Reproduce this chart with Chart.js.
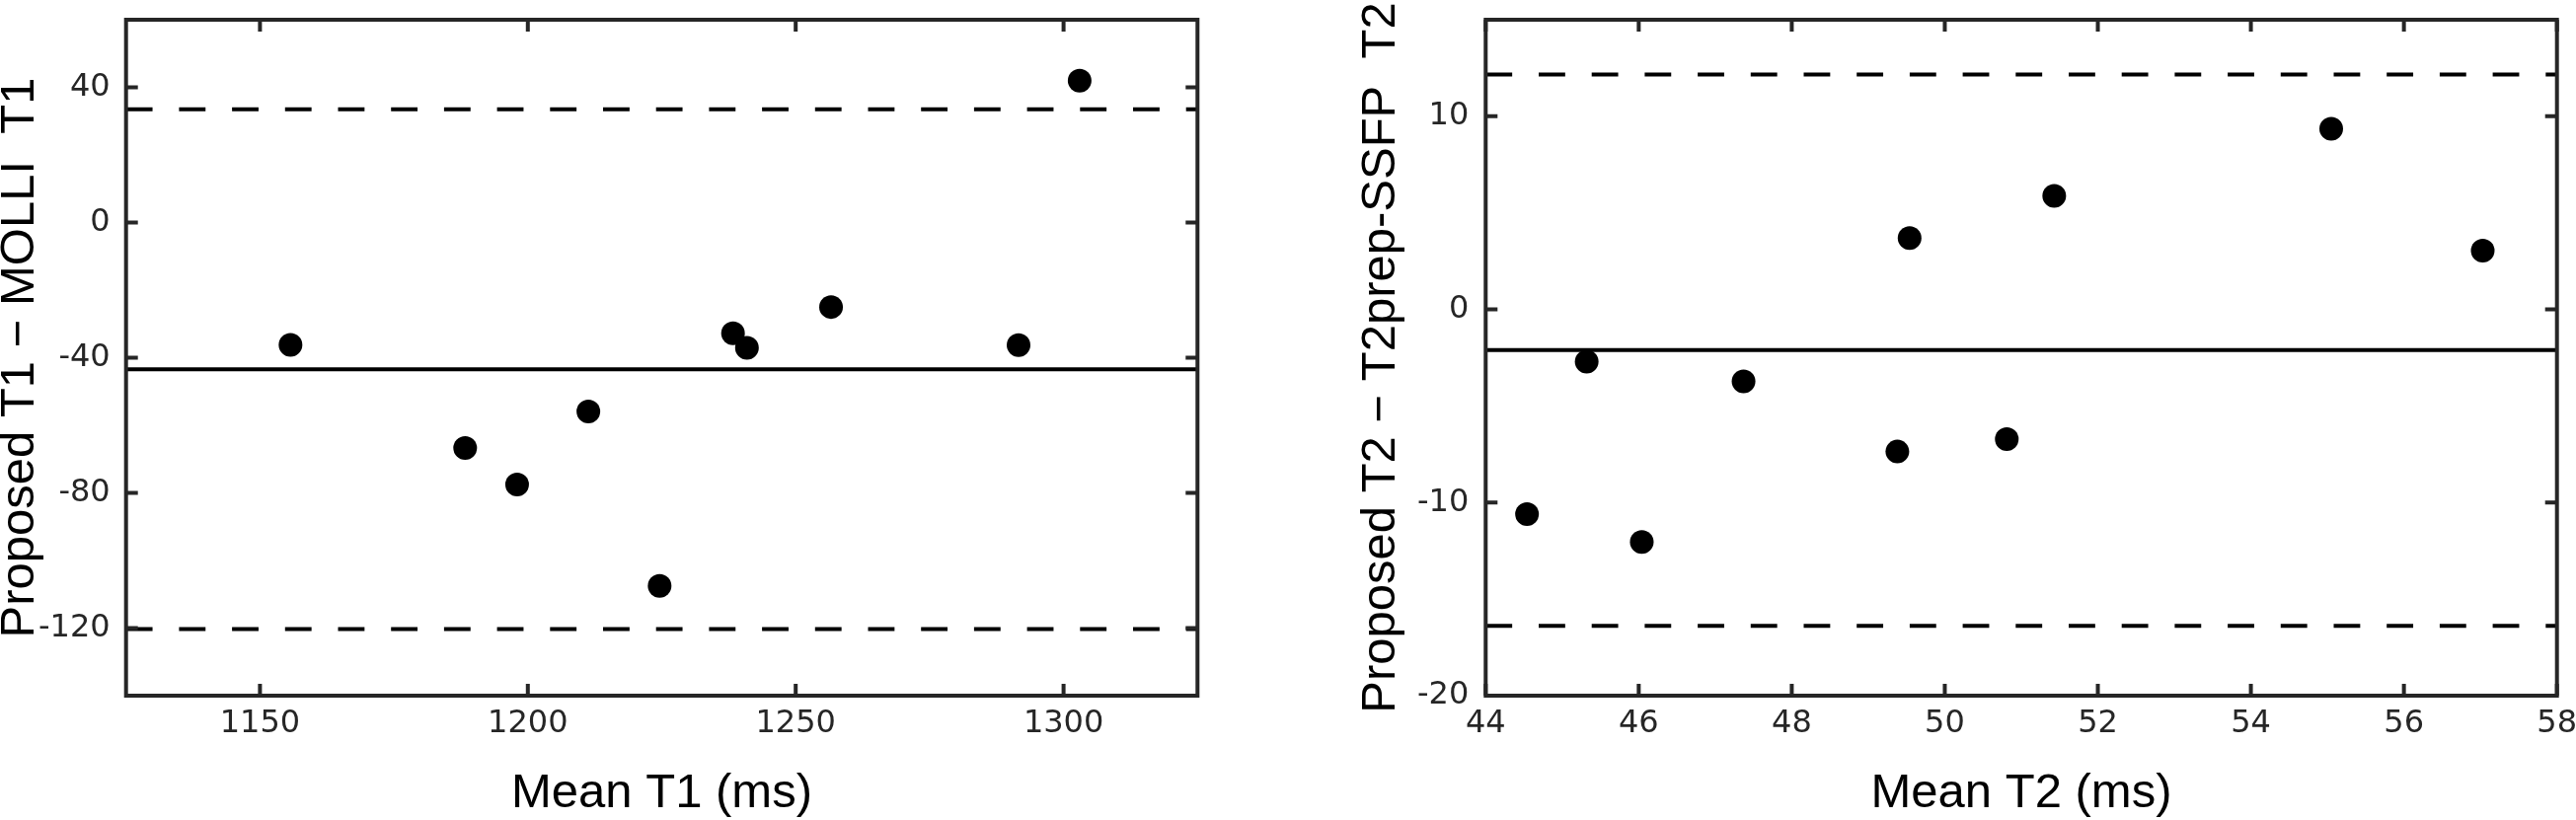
<!DOCTYPE html>
<html><head><meta charset="utf-8">
<script src="https://cdn.jsdelivr.net/npm/chart.js@4"></script>
<style>
html,body{margin:0;padding:0;background:#fff;width:2610px;height:831px;overflow:hidden}
#c1{position:absolute;left:0;top:0}
#c2{position:absolute;left:1300px;top:0}
</style></head><body>
<canvas id="c1" width="1300" height="831"></canvas>
<canvas id="c2" width="1310" height="831"></canvas>
<script>
// ---- Left panel: T1 Bland-Altman ----
const t1Mean = [1155.7, 1188.3, 1198.0, 1211.3, 1224.6, 1238.3, 1240.9, 1256.6, 1291.6, 1303.0];
const t1Diff = [-36.2, -66.7, -77.5, -55.9, -107.5, -32.8, -37.1, -25.0, -36.3, 42.0];
const t1Bias = -43.4;
const t1UpperLoA = 33.5;
const t1LowerLoA = -120.3;
const t1XRange = [1125, 1325];
const t1YRange = [-140, 60];
const t1XTicks = [1150, 1200, 1250, 1300];
const t1YTicks = [-120, -80, -40, 0, 40];
const t1XTitle = 'Mean T1 (ms)';
const t1YTitle = 'Proposed T1 \u2212 MOLLI  T1';

// ---- Right panel: T2 Bland-Altman ----
const t2Mean = [44.54, 45.32, 46.04, 47.37, 49.38, 49.54, 50.81, 51.43, 55.05, 57.03];
const t2Diff = [-10.6, -2.7, -12.04, -3.73, -7.36, 3.69, -6.71, 5.88, 9.35, 3.04];
const t2Bias = -2.11;
const t2UpperLoA = 12.16;
const t2LowerLoA = -16.38;
const t2XRange = [44, 58];
const t2YRange = [-20, 15];
const t2XTicks = [44, 46, 48, 50, 52, 54, 56, 58];
const t2YTicks = [-20, -10, 0, 10];
const t2XTitle = 'Mean T2 (ms)';
const t2YTitle = 'Proposed T2 \u2212 T2prep-SSFP  T2';

const AXIS_COLOR = '#262626';

const boxPlugin = {
  id: 'matlabBox',
  afterDraw(chart) {
    const {ctx, chartArea: a, scales: {x, y}} = chart;
    const L = 12;
    ctx.save();
    ctx.strokeStyle = AXIS_COLOR;
    ctx.lineWidth = 4;
    ctx.lineCap = 'butt';
    ctx.beginPath();
    for (const t of x.ticks) {
      const px = x.getPixelForValue(t.value);
      ctx.moveTo(px, a.bottom); ctx.lineTo(px, a.bottom - L);
      ctx.moveTo(px, a.top); ctx.lineTo(px, a.top + L);
    }
    for (const t of y.ticks) {
      const py = y.getPixelForValue(t.value);
      ctx.moveTo(a.left, py); ctx.lineTo(a.left + L, py);
      ctx.moveTo(a.right, py); ctx.lineTo(a.right - L, py);
    }
    ctx.stroke();
    ctx.lineJoin = 'miter';
    ctx.strokeRect(a.left, a.top, a.right - a.left, a.bottom - a.top);
    ctx.restore();
  }
};

function hLine(xr, yv, dashed) {
  return {
    type: 'line',
    data: [{x: xr[0], y: yv}, {x: xr[1], y: yv}],
    showLine: true,
    borderColor: '#000',
    borderWidth: 4,
    borderDash: dashed ? [26.85, 26.85] : [],
    borderCapStyle: 'butt',
    pointRadius: 0,
    pointHoverRadius: 0,
    fill: false,
    order: 2
  };
}

function makeChart(id, cfg) {
  const points = cfg.xs.map((v, i) => ({x: v, y: cfg.ys[i]}));
  return new Chart(document.getElementById(id), {
    type: 'scatter',
    data: {
      datasets: [
        {type: 'scatter', data: points, backgroundColor: '#000', borderWidth: 0,
         pointRadius: 12, pointHoverRadius: 12, order: 0},
        hLine(cfg.xr, cfg.bias, false),
        hLine(cfg.xr, cfg.upper, true),
        hLine(cfg.xr, cfg.lower, true)
      ]
    },
    options: {
      responsive: false,
      animation: false,
      devicePixelRatio: 1,
      layout: {padding: {left: 0, right: cfg.padRight, top: 20, bottom: 0}},
      plugins: {legend: {display: false}, tooltip: {enabled: false}},
      scales: {
        x: {
          type: 'linear', position: 'bottom',
          min: cfg.xr[0], max: cfg.xr[1],
          afterBuildTicks: s => { s.ticks = cfg.xTicks.map(v => ({value: v})); },
          afterFit: s => { s.height = 126; s.paddingLeft = 0; s.paddingRight = 0; },
          grid: {display: false, drawTicks: false},
          border: {display: false},
          ticks: {autoSkip: false, maxRotation: 0, minRotation: 0, padding: 9.8,
                  color: AXIS_COLOR, font: {family: 'DejaVu Sans', size: 32},
                  callback: v => String(v)},
          title: {display: true, text: cfg.xTitle, color: '#000',
                  font: {family: 'Liberation Sans', size: 49, lineHeight: 1},
                  padding: {top: 0, bottom: 1.75}}
        },
        y: {
          type: 'linear', position: 'left',
          min: cfg.yr[0], max: cfg.yr[1],
          afterBuildTicks: s => { s.ticks = cfg.yTicks.map(v => ({value: v})); },
          afterFit: s => { s.width = cfg.yAxisWidth; s.paddingTop = 0; s.paddingBottom = 0; },
          grid: {display: false, drawTicks: false},
          border: {display: false},
          ticks: {autoSkip: false, padding: cfg.yTickPad,
                  color: AXIS_COLOR, font: {family: 'DejaVu Sans', size: 32},
                  callback: v => String(v)},
          title: {display: true, text: cfg.yTitle, color: '#000',
                  font: {family: 'Liberation Sans', size: 49, lineHeight: 1},
                  padding: {top: cfg.yTitlePad, bottom: 0}}
        }
      }
    },
    plugins: [boxPlugin]
  });
}

makeChart('c1', {
  xs: t1Mean, ys: t1Diff, bias: t1Bias, upper: t1UpperLoA, lower: t1LowerLoA,
  xr: t1XRange, yr: t1YRange, xTicks: t1XTicks, yTicks: t1YTicks,
  xTitle: t1XTitle, yTitle: t1YTitle,
  padRight: 86.7, yAxisWidth: 127.7, yTickPad: 16, yTitlePad: -4
});
makeChart('c2', {
  xs: t2Mean, ys: t2Diff, bias: t2Bias, upper: t2UpperLoA, lower: t2LowerLoA,
  xr: t2XRange, yr: t2YRange, xTicks: t2XTicks, yTicks: t2YTicks,
  xTitle: t2XTitle, yTitle: t2YTitle,
  padRight: 19.3, yAxisWidth: 205.3, yTickPad: 17, yTitlePad: 75
});
</script>
</body></html>
